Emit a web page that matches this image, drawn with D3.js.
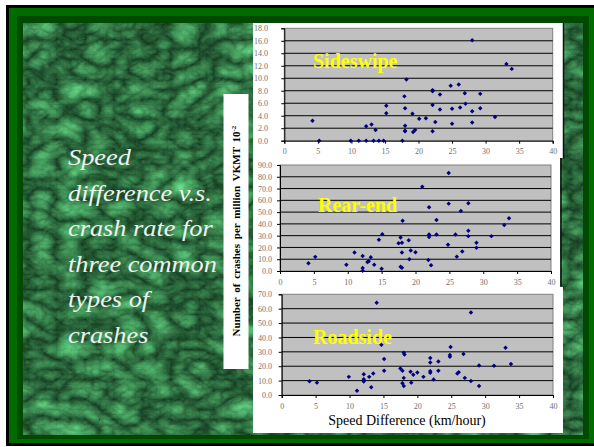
<!DOCTYPE html>
<html>
<head>
<meta charset="utf-8">
<script src="https://cdn.jsdelivr.net/npm/d3@7/dist/d3.min.js"></script>
<style>
  html, body { margin: 0; padding: 0; background: #ffffff; }
  svg { display: block; }
</style>
</head>
<body>
<svg id="chart" width="594" height="447"></svg>
<script>
// ---------------- DATA ----------------
const xTicks = [0, 5, 10, 15, 20, 25, 30, 35, 40];
const sideswipeTicks = [0, 2, 4, 6, 8, 10, 12, 14, 16, 18];
const rearEndTicks = [0, 10, 20, 30, 40, 50, 60, 70, 80, 90];
const roadsideTicks = [0, 10, 20, 30, 40, 50, 60, 70];

const sideswipeSpeed = [4.2, 5.2, 9.9, 11.1, 12.2, 12.2, 13.0, 13.3, 13.6, 14.1, 14.8, 15.2, 15.2, 17.6, 17.9, 18.0, 18.0, 18.0, 18.0, 18.2, 19.1, 19.2, 19.5, 20.1, 21.1, 22.1, 22.1, 22.1, 22.1, 22.5, 23.2, 23.2, 24.8, 25.0, 25.0, 26.0, 26.2, 26.9, 27.0, 28.0, 28.0, 28.0, 29.2, 29.2, 31.4, 33.1, 33.9];
const sideswipeRate  = [3.2, 0.0, 0.0, 0.0, 0.0, 2.3, 2.6, 0.0, 1.7, 0.0, 0.0, 5.6, 4.4, 0.0, 7.1, 5.2, 2.4, 1.6, 1.5, 9.8, 4.3, 1.4, 1.7, 3.5, 3.6, 8.1, 7.9, 5.7, 1.5, 3.0, 7.4, 5.0, 8.8, 5.1, 2.7, 9.0, 5.3, 7.6, 5.9, 16.1, 4.7, 2.9, 7.5, 5.2, 3.8, 12.3, 11.5];

const rearEndSpeed = [4.2, 5.2, 9.8, 11.0, 12.2, 12.2, 12.2, 12.9, 13.1, 13.4, 13.9, 14.6, 15.0, 15.1, 17.5, 17.8, 17.8, 18.0, 18.0, 18.0, 18.1, 19.0, 19.1, 19.3, 20.0, 21.0, 22.0, 22.0, 22.0, 21.9, 22.3, 23.1, 23.1, 24.8, 24.9, 24.9, 25.9, 26.1, 26.7, 26.9, 27.8, 27.8, 27.8, 29.0, 29.0, 31.2, 33.1, 33.8];
const rearEndRate  = [6.6, 12.0, 5.4, 15.7, 12.8, 2.6, 0.3, 7.6, 8.3, 11.7, 5.4, 26.5, 2.0, 31.3, 23.6, 28.5, 3.7, 2.8, 23.9, 15.7, 42.7, 26.2, 10.0, 17.4, 16.0, 71.5, 54.1, 31.0, 28.8, 9.4, 4.8, 43.3, 31.0, 22.2, 83.2, 57.2, 31.0, 12.2, 51.0, 16.5, 57.5, 34.2, 29.6, 23.9, 19.7, 29.6, 39.0, 44.7];

const roadsideSpeed = [4.1, 5.2, 9.9, 11.1, 12.1, 12.1, 12.1, 12.9, 13.2, 13.5, 14.0, 14.7, 15.1, 15.1, 17.5, 17.8, 17.8, 18.0, 18.0, 18.0, 18.1, 19.0, 19.1, 19.4, 20.0, 20.9, 21.9, 21.9, 21.9, 21.9, 22.4, 23.1, 23.1, 24.8, 24.8, 24.9, 26.8, 25.9, 26.1, 27.0, 27.9, 27.9, 29.1, 29.1, 31.3, 33.0, 33.8];
const roadsideRate  = [9.6, 8.6, 12.6, 3.0, 14.5, 11.0, 9.3, 12.6, 5.4, 14.9, 64.2, 35.0, 25.0, 16.8, 18.4, 16.8, 8.2, 11.9, 6.3, 29.4, 28.2, 16.1, 8.6, 14.0, 15.6, 12.6, 25.7, 22.6, 16.6, 15.4, 10.7, 23.3, 16.8, 26.6, 27.8, 33.4, 28.5, 14.9, 15.9, 11.9, 9.8, 57.4, 20.5, 6.3, 20.3, 32.9, 21.5];

const chartNames = ["Sideswipe", "Rear-end", "Roadside"];
const titleLines = ["Speed", "difference v.s.", "crash rate for", "three common", "types of", "crashes"];
const yAxisTitle = "Number of crashes per million VKMT 10";
const yAxisTitleExp = "-2";
const xAxisTitle = "Speed Difference (km/hour)";

// ---------------- DRAWING ----------------
const svg = d3.select("#chart");
const defs = svg.append("defs");

// marble texture filter
const f = defs.append("filter").attr("id", "marble")
  .attr("x", 0).attr("y", 0).attr("width", 1).attr("height", 1)
  .attr("color-interpolation-filters", "sRGB")
  .attr("filterUnits", "objectBoundingBox");
f.append("feTurbulence").attr("type", "turbulence")
  .attr("baseFrequency", "0.035 0.05").attr("numOctaves", 5).attr("seed", 11).attr("result", "t");
f.append("feColorMatrix").attr("in", "t").attr("type", "matrix")
  .attr("values", [
    0.35, 0, 0, 0, 0.07,
    0.70, 0, 0, 0, 0.21,
    0.45, 0, 0, 0, 0.11,
    0, 0, 0, 0, 1].join(" "));

// frame
svg.append("rect").attr("x", 6).attr("y", 5).attr("width", 588).attr("height", 441).attr("fill", "#000000");
svg.append("rect").attr("x", 9).attr("y", 8).attr("width", 585).attr("height", 435).attr("fill", "#006c00");
svg.append("rect").attr("x", 17).attr("y", 16).attr("width", 572).attr("height", 423).attr("fill", "#004a00");
svg.append("rect").attr("x", 23).attr("y", 23).attr("width", 560).attr("height", 412)
  .attr("fill", "#1d4d2b").attr("filter", "url(#marble)");

// left title
const titleG = svg.append("g");
const tl = titleG.selectAll("text").data(titleLines).join("text")
  .attr("x", 0)
  .attr("y", (d, i) => 165 + i * 35.6)
  .attr("fill", "#eef2ee")
  .style("font-family", "'Liberation Serif', 'Times New Roman', serif")
  .style("font-style", "italic")
  .style("font-size", "23px")
  .text(d => d);
// stretch horizontally so the widest line matches the reference width
const w = tl.nodes()[1].getComputedTextLength();
titleG.attr("transform", `translate(68,0) scale(${144 / w},1)`);

// y-axis title box
svg.append("rect").attr("x", 223.5).attr("y", 94).attr("width", 25).attr("height", 275).attr("fill", "#ffffff");
const yt = svg.append("text")
  .attr("transform", "translate(240,231) rotate(-90)")
  .attr("text-anchor", "middle")
  .style("font-family", "'Liberation Serif', 'Times New Roman', serif")
  .style("font-weight", "bold")
  .style("font-size", "11px")
  .style("word-spacing", "2px")
  .attr("fill", "#000");
yt.append("tspan").text(yAxisTitle);
yt.append("tspan").attr("dy", -4).style("font-size", "7px").text(yAxisTitleExp);

// white panels
svg.append("rect").attr("x", 253).attr("y", 23).attr("width", 310).attr("height", 135).attr("fill", "#fff");
svg.append("rect").attr("x", 253).attr("y", 158).attr("width", 307).attr("height", 129).attr("fill", "#fff");
svg.append("rect").attr("x", 253).attr("y", 287).attr("width", 310).attr("height", 146).attr("fill", "#fff");
svg.append("line").attr("x1", 563.5).attr("x2", 563.5).attr("y1", 23).attr("y2", 158).attr("stroke", "#111").attr("stroke-width", 1.5);
svg.append("line").attr("x1", 561).attr("x2", 561).attr("y1", 158).attr("y2", 286).attr("stroke", "#111").attr("stroke-width", 1.5);

const charts = [
  { name: chartNames[0], xs: sideswipeSpeed, ys: sideswipeRate, ticks: sideswipeTicks,
    left: 284.3, right: 552.7, top: 28.3, bottom: 140.7, labelEnd: 268, xLabelY: 151.5, titleX: 313, titleY: 68 },
  { name: chartNames[1], xs: rearEndSpeed, ys: rearEndRate, ticks: rearEndTicks,
    left: 280, right: 551, top: 165, bottom: 271, labelEnd: 272, xLabelY: 282, titleX: 318, titleY: 211.7 },
  { name: chartNames[2], xs: roadsideSpeed, ys: roadsideRate, ticks: roadsideTicks,
    left: 281.7, right: 553, top: 294.3, bottom: 395, labelEnd: 272, xLabelY: 406, titleX: 313, titleY: 344 }
];

const tickFont = "'Liberation Serif', 'Times New Roman', serif";
const diamond = d3.symbol().type(d3.symbolSquare).size(10);

charts.forEach(c => {
  const x = d3.scaleLinear().domain([0, 40]).range([c.left, c.right]);
  const yMax = c.ticks[c.ticks.length - 1];
  const y = d3.scaleLinear().domain([0, yMax]).range([c.bottom, c.top]);
  const g = svg.append("g");

  // plot area
  g.append("rect").attr("x", c.left).attr("y", c.top)
    .attr("width", c.right - c.left).attr("height", c.bottom - c.top)
    .attr("fill", "#c0c0c0").attr("stroke", "#808080").attr("stroke-width", 1);

  // gridlines
  g.selectAll("line.grid").data(c.ticks.filter(t => t > 0 && t < yMax)).join("line")
    .attr("class", "grid")
    .attr("x1", c.left).attr("x2", c.right)
    .attr("y1", d => y(d)).attr("y2", d => y(d))
    .attr("stroke", "#000").attr("stroke-width", 1);

  // y axis
  const ya = g.append("g").attr("transform", `translate(${c.left},0)`)
    .call(d3.axisLeft(y).tickValues(c.ticks).tickFormat(d3.format(".1f"))
      .tickSize(3).tickPadding(c.left - c.labelEnd - 3));
  ya.select(".domain").attr("stroke", "#000");
  ya.selectAll(".tick line").attr("stroke", "#000");
  ya.selectAll("text").attr("fill", "#707070")
    .style("font-family", tickFont).style("font-size", "8px");

  // x axis
  const xa = g.append("g").attr("transform", `translate(0,${c.bottom})`)
    .call(d3.axisBottom(x).tickValues(xTicks).tickSize(3));
  xa.select(".domain").attr("stroke", "#000");
  xa.selectAll(".tick line").attr("stroke", "#000");
  xa.selectAll("text").attr("fill", "#707070")
    .attr("y", c.xLabelY - c.bottom).attr("dy", "0.35em")
    .style("font-family", tickFont).style("font-size", "8px");

  // chart label
  g.append("text").attr("x", c.titleX).attr("y", c.titleY)
    .attr("fill", "#ffff00")
    .style("font-family", "'Liberation Serif', 'Times New Roman', serif")
    .style("font-weight", "bold").style("font-size", "20px")
    .text(c.name);

  // points
  g.selectAll("path.pt").data(c.xs.map((v, i) => [v, c.ys[i]])).join("path")
    .attr("class", "pt")
    .attr("d", diamond)
    .attr("transform", d => `translate(${x(d[0])},${y(d[1])}) rotate(45)`)
    .attr("fill", "#000080");
});

// x-axis title
svg.append("text").attr("x", 407).attr("y", 425)
  .attr("text-anchor", "middle")
  .style("font-family", "'Liberation Serif', 'Times New Roman', serif")
  .style("font-size", "14px")
  .attr("fill", "#000")
  .text(xAxisTitle);
</script>
</body>
</html>
